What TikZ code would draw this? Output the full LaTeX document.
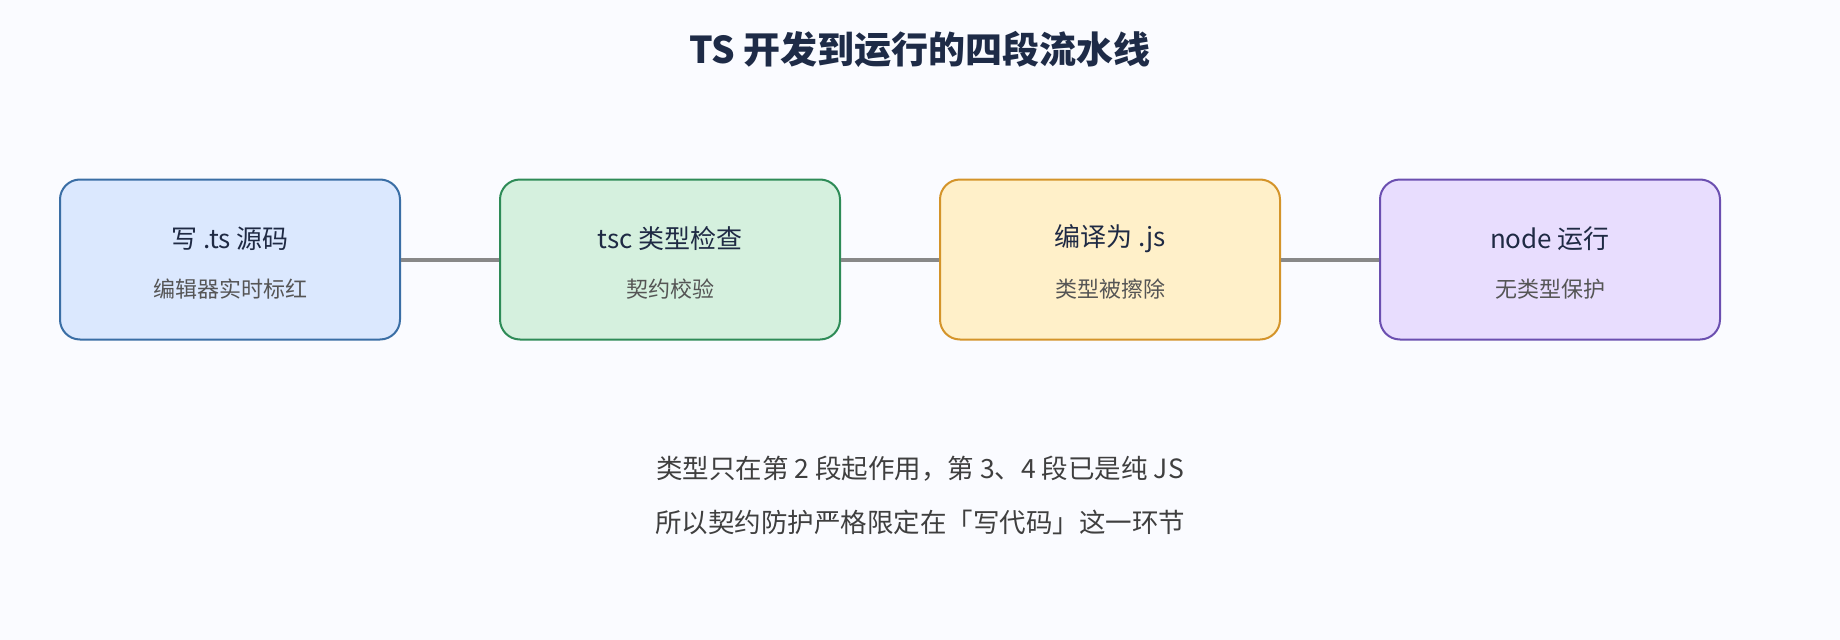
\documentclass[tikz,border=0pt]{standalone}
\usepackage{fontspec}
\setmainfont{Noto Sans CJK SC}
\definecolor{bgc}{HTML}{FAFBFF}
\definecolor{titlec}{HTML}{1E2B47}
\definecolor{txtc}{HTML}{1F2A44}
\definecolor{subc}{HTML}{555555}
\definecolor{notec}{HTML}{3F3F3F}
\definecolor{linec}{HTML}{888888}
\definecolor{fa}{HTML}{DBE8FE}\definecolor{da}{HTML}{3A6EA5}
\definecolor{fb}{HTML}{D5F0DE}\definecolor{db}{HTML}{2E8B57}
\definecolor{fc}{HTML}{FFF0C9}\definecolor{dc}{HTML}{D4942A}
\definecolor{fd}{HTML}{E8DDFE}\definecolor{dd}{HTML}{6B4FB0}
\tikzset{
  stagebox/.style={draw=#1, line width=2pt, rounded corners=20pt,
    minimum width=340pt, minimum height=160pt, inner sep=0pt},
  stagetitle/.style={text=txtc, font=\fontsize{26}{30}\selectfont, inner sep=0pt},
  stagesub/.style={text=subc, font=\fontsize{22}{26}\selectfont, inner sep=0pt},
  notetext/.style={text=notec, font=\fontsize{26.5}{30}\selectfont, inner sep=0pt},
  link/.style={draw=linec, line width=4pt}
}
\begin{document}
\begin{tikzpicture}[x=1pt,y=-1pt]
\fill[bgc] (0,0) rectangle (1840,640);
\useasboundingbox (0,0) rectangle (1840,640);
\node[text=titlec, font=\bfseries\fontsize{37}{44}\selectfont, inner sep=0pt] (title) at (920,49) {TS 开发到运行的四段流水线};

\node[stagebox=da, fill=fa] (s1) at (230,259.5) {};
\node[stagebox=db, fill=fb] (s2) at (670,259.5) {};
\node[stagebox=dc, fill=fc] (s3) at (1110,259.5) {};
\node[stagebox=dd, fill=fd] (s4) at (1550,259.5) {};

\node[stagetitle] (t1) at (230,239) {写 .ts 源码};
\node[stagesub] (u1) at (230,289) {编辑器实时标红};
\node[stagetitle] (t2) at (670,239) {tsc 类型检查};
\node[stagesub] (u2) at (670,289) {契约校验};
\node[stagetitle] (t3) at (1110,239) {编译为 .js};
\node[stagesub] (u3) at (1110,289) {类型被擦除};
\node[stagetitle] (t4) at (1550,239) {node 运行};
\node[stagesub] (u4) at (1550,289) {无类型保护};

\draw[link] (s1.east) -- (s2.west);
\draw[link] (s2.east) -- (s3.west);
\draw[link] (s3.east) -- (s4.west);

\node[notetext] (n1) at (920,469) {类型只在第 2 段起作用，第 3、4 段已是纯 JS};
\node[notetext] (n2) at (920,522) {所以契约防护严格限定在「写代码」这一环节};
\end{tikzpicture}
\end{document}
